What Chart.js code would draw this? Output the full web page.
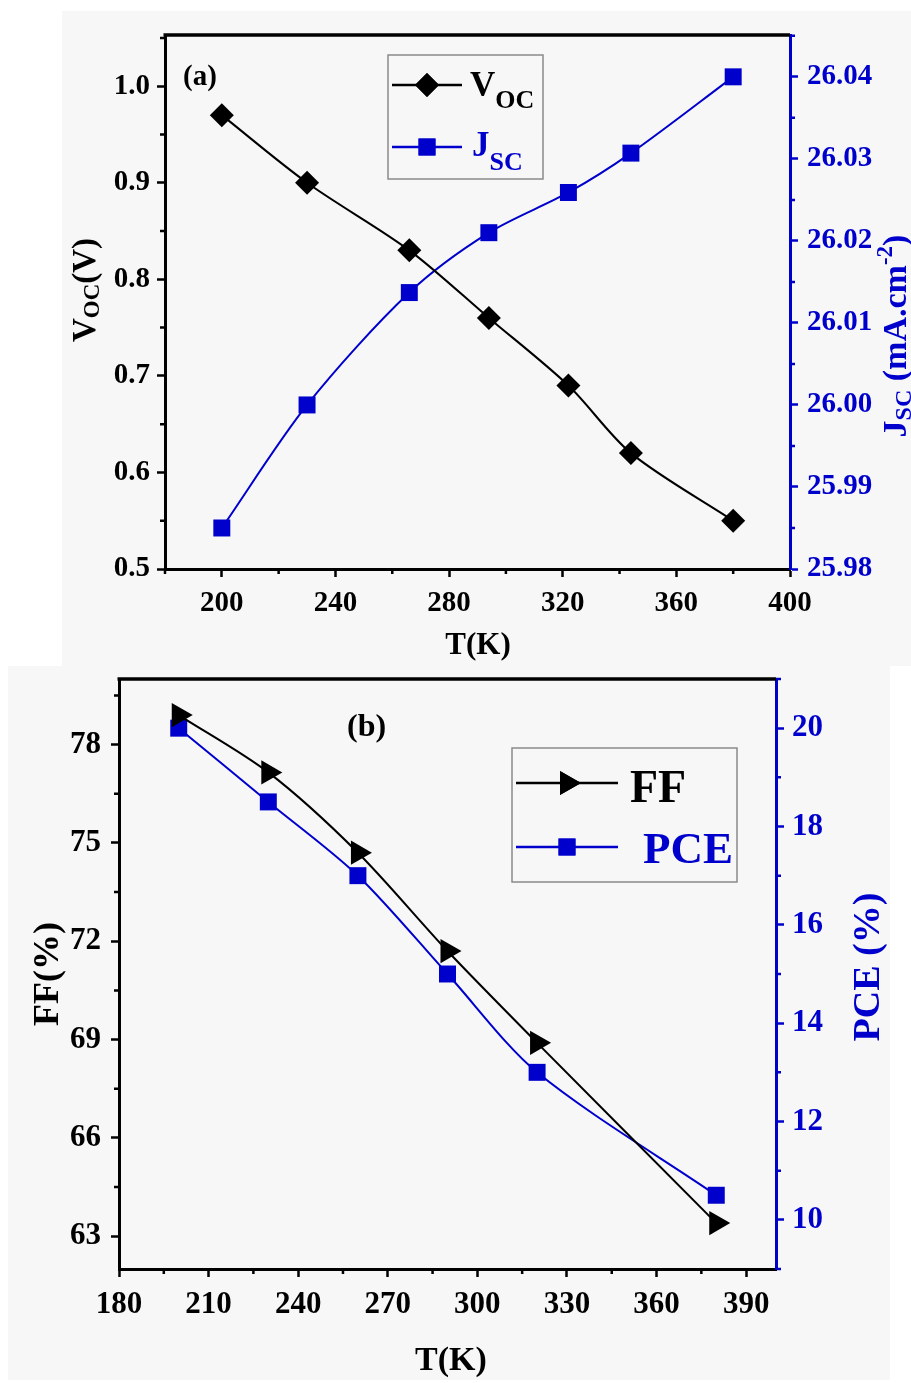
<!DOCTYPE html>
<html><head><meta charset="utf-8">
<script src="https://cdn.jsdelivr.net/npm/chart.js@4.4.1/dist/chart.umd.min.js"></script>
<style>
html,body{margin:0;padding:0;background:#fff;width:911px;height:1383px;overflow:hidden;}
.panel{position:absolute;background:#f7f7f7;}
canvas{position:absolute;left:0;}
</style></head><body>
<div class="panel" style="left:62px;top:11px;width:849px;height:655px"></div>
<div class="panel" style="left:8px;top:666px;width:882px;height:714px"></div>
<canvas id="ca" width="911" height="665" style="top:0"></canvas>
<canvas id="cb" width="911" height="718" style="top:665px"></canvas>
<script>
// ---------- data: panel (a) ----------
const tempA = [200, 230, 266, 294, 322, 344, 380];
const voc   = [0.97, 0.90, 0.83, 0.76, 0.69, 0.62, 0.55];
const jsc   = [25.985, 26.000, 26.0137, 26.021, 26.0259, 26.0307, 26.040];
const tempTicksA  = [200, 240, 280, 320, 360, 400];
const tempMinorA  = [180, 220, 260, 300, 340, 380];
const vocTicks    = [0.5, 0.6, 0.7, 0.8, 0.9, 1.0];
const vocMinor    = [0.55, 0.65, 0.75, 0.85, 0.95, 1.05];
const jscTicks    = [25.98, 25.99, 26.00, 26.01, 26.02, 26.03, 26.04];
const jscMinor    = [25.985, 25.995, 26.005, 26.015, 26.025, 26.035, 26.045];

// ---------- data: panel (b) ----------
const tempB = [200, 230, 260, 290, 320, 380];
const ff    = [78.9, 77.15, 74.7, 71.7, 68.9, 63.4];
const pce   = [20.0, 18.5, 17.0, 15.0, 13.0, 10.5];
const tempTicksB = [180, 210, 240, 270, 300, 330, 360, 390];
const tempMinorB = [195, 225, 255, 285, 315, 345, 375];
const ffTicks    = [63, 66, 69, 72, 75, 78];
const ffMinor    = [64.5, 67.5, 70.5, 73.5, 76.5, 79.5];
const pceTicks   = [10, 12, 14, 16, 18, 20];
const pceMinor   = [9, 11, 13, 15, 17, 19, 21];

const BLUE = '#0000cc';
const FONT = '"Liberation Serif", "Times New Roman", serif';

function richWidth(ctx, parts){
  let w = 0;
  parts.forEach(p => { ctx.font = `bold ${p.size}px ${FONT}`; w += ctx.measureText(p.t).width; });
  return w;
}
function drawRich(ctx, parts, x, y, rot, color, align){
  ctx.save();
  ctx.translate(x, y);
  ctx.rotate(rot);
  ctx.textBaseline = 'alphabetic';
  ctx.textAlign = 'left';
  const w = richWidth(ctx, parts);
  let cx = align === 'left' ? 0 : -w / 2;
  parts.forEach(p => {
    ctx.font = `bold ${p.size}px ${FONT}`;
    ctx.fillStyle = p.color || color;
    ctx.fillText(p.t, cx, p.dy || 0);
    cx += ctx.measureText(p.t).width;
  });
  ctx.restore();
}

const setTicks = arr => s => { s.ticks = arr.map(v => ({value: v})); };

function minorTicks(ctx, scale, values, color, len){
  ctx.save();
  ctx.strokeStyle = color;
  ctx.lineWidth = 2.5;
  ctx.beginPath();
  values.forEach(v => {
    const p = scale.getPixelForValue(v);
    if (scale.position === 'left') { ctx.moveTo(scale.right, p); ctx.lineTo(scale.right - len, p); }
    else if (scale.position === 'right') { ctx.moveTo(scale.left, p); ctx.lineTo(scale.left + len, p); }
    else { ctx.moveTo(p, scale.top); ctx.lineTo(p, scale.top + len); }
  });
  ctx.stroke();
  ctx.restore();
}

function topSpine(chart){
  const ctx = chart.ctx, a = chart.chartArea;
  ctx.save();
  ctx.strokeStyle = '#000';
  ctx.lineWidth = 3.5;
  ctx.beginPath();
  ctx.moveTo(a.left - 1.5, a.top);
  ctx.lineTo(a.right, a.top);
  ctx.stroke();
  ctx.restore();
}

function legendBox(ctx, x0, y0, x1, y1){
  ctx.save();
  ctx.strokeStyle = '#8a8a8a';
  ctx.lineWidth = 1.5;
  ctx.strokeRect(x0, y0, x1 - x0, y1 - y0);
  ctx.restore();
}
function legendLine(ctx, xa, xb, y, color, style, radius, rotation){
  ctx.save();
  ctx.strokeStyle = color;
  ctx.lineWidth = 2.5;
  ctx.beginPath(); ctx.moveTo(xa, y); ctx.lineTo(xb, y); ctx.stroke();
  ctx.fillStyle = color;
  ctx.strokeStyle = color;
  ctx.lineWidth = 0.01;
  Chart.helpers.drawPoint(ctx, {pointStyle: style, radius: radius, rotation: rotation || 0, borderWidth: 0}, (xa + xb) / 2, y);
  ctx.fill();
  ctx.restore();
}

function axisBlock(color, tickArr, cb, pad, fontSize, size, isHorizontal){
  return {
    afterBuildTicks: setTicks(tickArr),
    afterFit: s => {
      if (isHorizontal) { s.height = size; s.paddingLeft = 0; s.paddingRight = 0; }
      else { s.width = size; s.paddingTop = 0; s.paddingBottom = 0; }
    },
    ticks: {color: color, font: {family: FONT, size: fontSize, weight: 'bold'}, padding: pad, autoSkip: false, maxRotation: 0, callback: cb},
    grid: {drawOnChartArea: false, color: color, tickColor: color, tickLength: 8, tickWidth: 2.5},
    border: {color: color, width: 3}
  };
}

const extrasA = {
  id: 'extrasA',
  afterDraw(chart){
    const ctx = chart.ctx, s = chart.scales;
    topSpine(chart);
    minorTicks(ctx, s.x, tempMinorA, '#000', 5);
    minorTicks(ctx, s.y, vocMinor, '#000', 5);
    minorTicks(ctx, s.y2, jscMinor, BLUE, 5);
    drawRich(ctx, [{t:'T(K)', size:31}], 478, 654, 0, '#000');
    drawRich(ctx, [{t:'V', size:33}, {t:'OC', size:23, dy:4}, {t:'(V)', size:33}], 95, 290, -Math.PI/2, '#000');
    drawRich(ctx, [{t:'J', size:34}, {t:'SC', size:24, dy:5}, {t:' (mA.cm', size:34}, {t:'-2', size:23, dy:-14}, {t:')', size:34}], 906, 336, -Math.PI/2, BLUE);
    drawRich(ctx, [{t:'(a)', size:29}], 183, 85, 0, '#000', 'left');
    legendBox(ctx, 388, 55, 543, 179);
    legendLine(ctx, 392, 462, 85, '#000', 'rectRot', 12);
    legendLine(ctx, 392, 462, 147, BLUE, 'rect', 12);
    drawRich(ctx, [{t:'V', size:35}, {t:'OC', size:26, dy:12}], 470, 96, 0, '#000', 'left');
    drawRich(ctx, [{t:'J', size:35}, {t:'SC', size:26, dy:14}], 472, 156, 0, BLUE, 'left');
  }
};

const extrasB = {
  id: 'extrasB',
  afterDraw(chart){
    const ctx = chart.ctx, s = chart.scales;
    topSpine(chart);
    minorTicks(ctx, s.x, tempMinorB, '#000', 5);
    minorTicks(ctx, s.y, ffMinor, '#000', 5);
    minorTicks(ctx, s.y2, pceMinor, BLUE, 5);
    drawRich(ctx, [{t:'T(K)', size:34}], 451, 705, 0, '#000');
    drawRich(ctx, [{t:'FF(%)', size:36}], 58, 309, -Math.PI/2, '#000');
    drawRich(ctx, [{t:'PCE (%)', size:38}], 879, 302, -Math.PI/2, BLUE);
    drawRich(ctx, [{t:'(b)', size:32}], 347, 71, 0, '#000', 'left');
    legendBox(ctx, 512, 83, 737, 217);
    legendLine(ctx, 516, 618, 118, '#000', 'triangle', 14, 90);
    legendLine(ctx, 516, 618, 182, BLUE, 'rect', 12);
    drawRich(ctx, [{t:'FF', size:46}], 630, 137, 0, '#000', 'left');
    drawRich(ctx, [{t:'PCE', size:45}], 643, 198, 0, BLUE, 'left');
  }
};

new Chart(document.getElementById('ca'), {
  type: 'line',
  data: {
    datasets: [
      {label: 'VOC', data: tempA.map((t, i) => ({x: t, y: voc[i]})), yAxisID: 'y',
       borderColor: '#000', backgroundColor: '#000', borderWidth: 2, pointStyle: 'rectRot', pointRadius: 12,
       pointBorderWidth: 0, tension: 0.3, fill: false},
      {label: 'JSC', data: tempA.map((t, i) => ({x: t, y: jsc[i]})), yAxisID: 'y2',
       borderColor: BLUE, backgroundColor: BLUE, borderWidth: 2, pointStyle: 'rect', pointRadius: 12,
       pointBorderWidth: 0, tension: 0.3, fill: false}
    ]
  },
  options: {
    responsive: false, animation: false, devicePixelRatio: 1,
    layout: {padding: {top: 35, left: 0, right: 0, bottom: 0}},
    plugins: {legend: {display: false}, tooltip: {enabled: false}},
    scales: {
      x: Object.assign({type: 'linear', position: 'bottom', min: 180, max: 400},
          axisBlock('#000', tempTicksA, v => String(v), 9, 29, 96, true)),
      y: Object.assign({type: 'linear', position: 'left', min: 0.5, max: 1.053},
          axisBlock('#000', vocTicks, v => v.toFixed(1), 7, 29, 165, false)),
      y2: Object.assign({type: 'linear', position: 'right', min: 25.98, max: 26.0451},
          axisBlock(BLUE, jscTicks, v => v.toFixed(2), 9, 29, 121, false))
    }
  },
  plugins: [extrasA]
});

new Chart(document.getElementById('cb'), {
  type: 'line',
  data: {
    datasets: [
      {label: 'FF', data: tempB.map((t, i) => ({x: t, y: ff[i]})), yAxisID: 'y',
       borderColor: '#000', backgroundColor: '#000', borderWidth: 2, pointStyle: 'triangle', pointRotation: 90, pointRadius: 14,
       pointBorderWidth: 0, tension: 0.3, fill: false},
      {label: 'PCE', data: tempB.map((t, i) => ({x: t, y: pce[i]})), yAxisID: 'y2',
       borderColor: BLUE, backgroundColor: BLUE, borderWidth: 2, pointStyle: 'rect', pointRadius: 12,
       pointBorderWidth: 0, tension: 0.3, fill: false}
    ]
  },
  options: {
    responsive: false, animation: false, devicePixelRatio: 1,
    layout: {padding: {top: 11, left: 0, right: 0, bottom: 0}},
    plugins: {legend: {display: false}, tooltip: {enabled: false}},
    scales: {
      x: Object.assign({type: 'linear', position: 'bottom', min: 180, max: 400},
          axisBlock('#000', tempTicksB, v => String(v), 9, 31, 114, true)),
      y: Object.assign({type: 'linear', position: 'left', min: 62, max: 80},
          axisBlock('#000', ffTicks, v => String(v), 10, 31, 119, false)),
      y2: Object.assign({type: 'linear', position: 'right', min: 9, max: 21},
          axisBlock(BLUE, pceTicks, v => String(v), 8, 31, 135, false))
    }
  },
  plugins: [extrasB]
});
</script>
</body></html>
